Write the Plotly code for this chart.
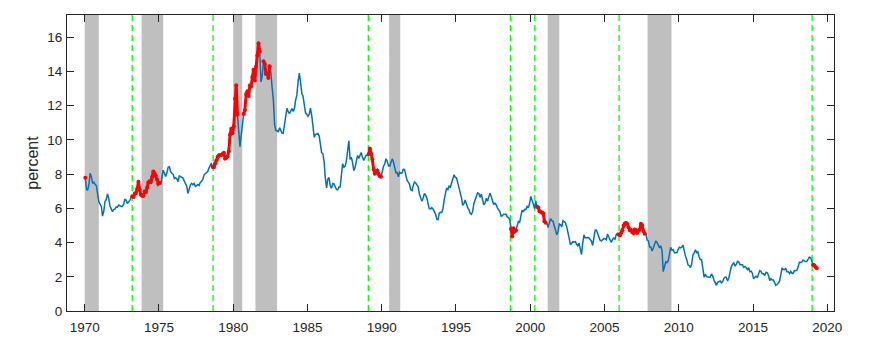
import pandas as pd
import plotly.graph_objects as go

# Monthly 10-year yield (percent), Jan 1970 onwards
yields_1970s = [
    7.79, 7.10, 7.07, 7.39, 8.05, 7.84, 7.46, 7.53, 7.39, 7.33, 6.84, 6.39,
    6.24, 6.11, 5.55, 5.83, 6.39, 6.52, 6.85, 6.58, 6.14, 5.93, 5.81, 5.93,
    5.95, 6.08, 6.07, 6.19, 6.13, 6.11, 6.11, 6.21, 6.55, 6.48, 6.28, 6.36,
    6.46, 6.64, 6.71, 6.67, 6.85, 6.90, 7.13, 7.55, 7.09, 6.79, 6.73, 6.74,
    6.99, 6.96, 7.21, 7.51, 7.58, 7.54, 7.81, 8.15, 8.04, 7.90, 7.68, 7.43,
    7.50, 7.39, 7.73, 8.23, 8.06, 7.86, 8.06, 8.40, 8.43, 8.14, 8.05, 8.00,
    7.74, 7.79, 7.73, 7.56, 7.90, 7.86, 7.83, 7.77, 7.59, 7.41, 7.29, 6.87,
    7.21, 7.39, 7.46, 7.37, 7.46, 7.28, 7.33, 7.40, 7.34, 7.52, 7.58, 7.69,
    7.96, 8.03, 8.04, 8.15, 8.35, 8.46, 8.64, 8.41, 8.42, 8.64, 8.81, 9.01,
    9.10, 9.10, 9.12, 9.18, 9.25, 8.91, 8.95, 9.03, 9.33, 10.30, 10.65, 10.39,
]
yields_1980s = [
    10.80, 12.41, 13.20, 11.47, 10.18, 9.60, 10.25, 11.10, 11.51, 11.75, 12.68, 12.84,
    12.57, 13.19, 13.12, 13.68, 14.10, 13.47, 14.28, 14.94, 15.65, 15.15, 13.39, 13.72,
    14.59, 14.43, 13.86, 13.87, 13.62, 14.30, 13.95, 13.06, 12.34, 10.91, 10.55, 10.54,
    10.46, 10.72, 10.51, 10.40, 10.38, 10.85, 11.38, 11.85, 11.65, 11.54, 11.69, 11.83,
    11.67, 11.84, 12.32, 12.63, 13.41, 13.90, 13.36, 12.72, 12.52, 12.16, 11.57, 11.50,
    11.38, 11.51, 11.86, 11.43, 10.85, 10.16, 10.31, 10.33, 10.37, 10.24, 9.78, 9.26,
    9.19, 8.70, 7.78, 7.20, 7.71, 7.80, 7.30, 7.17, 7.45, 7.43, 7.25, 7.11,
    7.08, 7.25, 7.25, 8.02, 8.61, 8.40, 8.45, 8.76, 9.42, 9.95, 8.86, 8.99,
    8.67, 8.21, 8.37, 8.72, 9.09, 8.92, 9.06, 9.26, 8.98, 8.80, 8.96, 9.11,
    9.09, 9.17, 9.50, 9.18, 8.86, 8.28, 8.02, 8.11, 8.19, 8.01, 7.87, 7.84,
]
yields_1990s = [
    8.21, 8.47, 8.59, 8.90, 8.76, 8.48, 8.47, 8.75, 8.89, 8.72, 8.39, 8.08,
    8.09, 7.85, 8.11, 8.04, 8.07, 8.28, 8.27, 7.90, 7.65, 7.53, 7.42, 7.09,
    7.03, 7.34, 7.54, 7.48, 7.39, 7.26, 6.84, 6.59, 6.42, 6.59, 6.87, 6.77,
    6.60, 6.26, 5.98, 5.97, 6.04, 5.96, 5.81, 5.68, 5.36, 5.33, 5.72, 5.77,
    5.75, 5.97, 6.48, 6.97, 7.18, 7.10, 7.30, 7.24, 7.46, 7.74, 7.96, 7.81,
    7.78, 7.47, 7.20, 7.06, 6.63, 6.17, 6.28, 6.49, 6.20, 6.04, 5.93, 5.71,
    5.65, 5.81, 6.27, 6.51, 6.74, 6.91, 6.87, 6.64, 6.83, 6.53, 6.20, 6.30,
    6.58, 6.42, 6.69, 6.89, 6.71, 6.49, 6.22, 6.30, 6.21, 6.03, 5.88, 5.81,
    5.54, 5.57, 5.65, 5.64, 5.65, 5.50, 5.46, 5.34, 4.81, 4.35, 4.83, 4.65,
    4.72, 5.00, 5.23, 5.18, 5.54, 5.90, 5.79, 5.94, 5.92, 6.11, 6.03, 6.28,
]
yields_2000s = [
    6.70, 6.52, 6.26, 5.99, 6.44, 6.10, 6.05, 5.83, 5.80, 5.74, 5.72, 5.24,
    5.16, 5.10, 4.89, 5.14, 5.39, 5.28, 5.24, 4.97, 4.73, 4.45, 4.65, 5.09,
    5.04, 4.91, 5.28, 5.21, 5.16, 4.93, 4.65, 4.26, 3.87, 3.94, 4.05, 4.03,
    4.05, 3.90, 3.81, 3.96, 3.57, 3.30, 3.98, 4.45, 4.27, 4.29, 4.30, 4.27,
    4.15, 4.08, 3.83, 4.35, 4.72, 4.73, 4.50, 4.28, 4.13, 4.10, 4.19, 4.23,
    4.22, 4.17, 4.50, 4.34, 4.14, 4.00, 4.18, 4.26, 4.20, 4.46, 4.54, 4.47,
    4.42, 4.57, 4.72, 4.99, 5.11, 5.15, 5.09, 4.88, 4.72, 4.73, 4.60, 4.56,
    4.76, 4.72, 4.56, 4.69, 4.75, 5.10, 5.00, 4.67, 4.52, 4.53, 4.15, 4.10,
    3.74, 3.74, 3.51, 3.68, 3.88, 4.10, 4.01, 3.89, 3.69, 3.81, 3.53, 2.30,
    2.52, 2.87, 2.82, 2.93, 3.29, 3.72, 3.56, 3.59, 3.40, 3.39, 3.40, 3.59,
]
yields_2010s = [
    3.73, 3.69, 3.73, 3.85, 3.42, 3.20, 3.01, 2.70, 2.65, 2.54, 2.76, 3.29,
    3.39, 3.58, 3.41, 3.46, 3.17, 3.00, 3.00, 2.30, 1.98, 2.15, 2.01, 1.98,
    1.97, 1.97, 2.17, 2.05, 1.80, 1.62, 1.50, 1.68, 1.72, 1.75, 1.65, 1.72,
    1.91, 1.98, 1.96, 1.76, 1.93, 2.30, 2.58, 2.74, 2.81, 2.62, 2.72, 2.90,
    2.86, 2.71, 2.72, 2.71, 2.56, 2.60, 2.54, 2.42, 2.53, 2.30, 2.33, 2.21,
    1.88, 1.98, 2.04, 1.94, 2.20, 2.36, 2.32, 2.17, 2.17, 2.07, 2.26, 2.24,
    2.09, 1.78, 1.89, 1.81, 1.81, 1.64, 1.50, 1.56, 1.63, 1.76, 2.14, 2.49,
    2.43, 2.42, 2.48, 2.30, 2.30, 2.19, 2.32, 2.21, 2.20, 2.36, 2.35, 2.40,
    2.58, 2.86, 2.84, 2.87, 2.98, 2.91, 2.89, 2.89, 3.00, 3.15, 3.12, 2.83,
    2.71, 2.68, 2.57, 2.50,
]

# Recession periods (gray bands)
recession_starts = ["1970-01-01", "1973-11-01", "1980-01-01", "1981-07-01",
                    "1990-07-01", "2001-03-05", "2007-11-25"]
recession_ends = ["1970-12-15", "1975-04-15", "1980-08-10", "1982-12-15",
                  "1991-04-01", "2001-12-15", "2009-07-05"]

# Green dashed signal dates
signal_dates = ["1973-03-15", "1978-08-25", "1989-02-05", "1998-09-01",
                "2000-04-22", "2005-12-25", "2018-12-25"]

# Red-highlighted periods
red_starts = ["1969-12-15", "1973-03-01", "1978-08-10", "1980-09-01", "1982-01-01",
              "1989-02-01", "1998-08-20", "2000-06-01", "2005-12-10", "2018-12-20"]
red_ends = ["1970-02-10", "1975-02-01", "1980-05-01", "1981-11-01", "1982-06-20",
            "1989-12-20", "1999-01-20", "2001-02-10", "2007-09-20", "2019-05-01"]

yields = yields_1970s + yields_1980s + yields_1990s + yields_2000s + yields_2010s
dates = pd.date_range("1970-01-01", periods=len(yields), freq="MS") + pd.Timedelta(days=14)

red_vals = []
for d, v in zip(dates, yields):
    inside = any(pd.Timestamp(s) <= d <= pd.Timestamp(e) for s, e in zip(red_starts, red_ends))
    red_vals.append(v if inside else None)

fig = go.Figure()

shapes = []
for s, e in zip(recession_starts, recession_ends):
    shapes.append(dict(type="rect", xref="x", yref="paper", x0=s, x1=e, y0=0, y1=1,
                       fillcolor="rgb(191,191,191)", line=dict(width=0), layer="below"))
for d in signal_dates:
    shapes.append(dict(type="line", xref="x", yref="paper", x0=d, x1=d, y0=0, y1=1,
                       line=dict(color="#00FF00", width=1.3, dash="6px,4px"), layer="below"))

fig.add_trace(go.Scatter(x=dates, y=yields, mode="lines",
                         line=dict(color="#0072BD", width=1.5), showlegend=False))
fig.add_trace(go.Scatter(x=dates, y=red_vals, mode="lines+markers",
                         line=dict(color="#FF0000", width=3),
                         marker=dict(color="#FF0000", size=4),
                         connectgaps=False, showlegend=False))

font_family = "Liberation Sans, Arial, sans-serif"
fig.update_layout(
    width=870, height=351,
    margin=dict(l=67, r=36, t=15, b=40),
    paper_bgcolor="white", plot_bgcolor="white",
    shapes=shapes,
    font=dict(family=font_family, color="#262626", size=13.5),
    xaxis=dict(type="date", range=["1968-10-23", "2020-06-14"],
               tick0="1970-01-01", dtick="M60", tickformat="%Y",
               ticks="inside", ticklen=7, tickcolor="#262626",
               showline=True, linecolor="#262626", linewidth=1, mirror="ticks",
               showgrid=False, zeroline=False, ticklabelstandoff=4,
               tickfont=dict(size=13.5, color="#262626")),
    yaxis=dict(range=[0, 17.3], tick0=0, dtick=2,
               ticks="inside", ticklen=7, tickcolor="#262626",
               showline=True, linecolor="#262626", linewidth=1, mirror="ticks",
               showgrid=False, zeroline=False, ticklabelstandoff=1,
               tickfont=dict(size=13.5, color="#262626"),
               title=dict(text="percent", font=dict(size=16, color="#262626"), standoff=4)),
)

fig.write_html("out.html")
